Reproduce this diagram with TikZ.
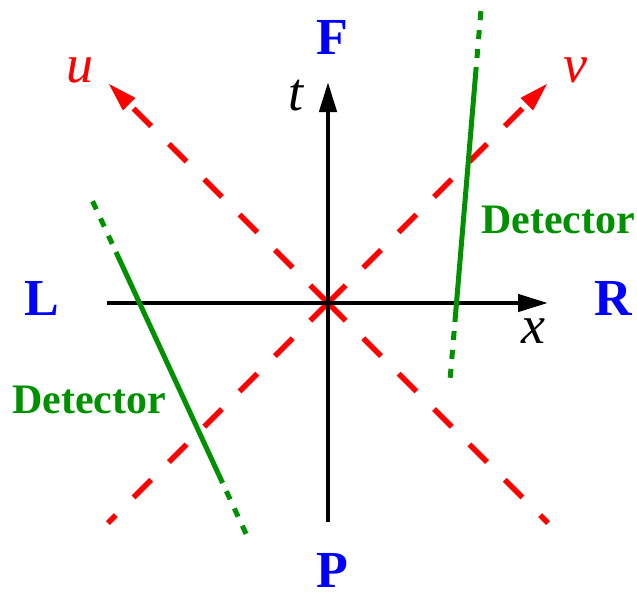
\documentclass[tikz,border=0pt]{standalone}
\usepackage{fontspec}
\setmainfont{Liberation Serif}
\usetikzlibrary{arrows.meta}
\definecolor{dgreen}{RGB}{0,145,0}
\begin{document}
\begin{tikzpicture}[x=1pt,y=-1pt,
  axis/.style={line width=4.5pt,-{Triangle[length=30pt,width=17pt]}},
  cone/.style={red,line width=5.5pt,dash pattern=on 25pt off 25pt},
  conearrow/.style={cone,-{Triangle[length=30pt,width=16pt]}},
  det/.style={dgreen,line width=5pt},
  detdot/.style={dgreen,line width=5pt,dash pattern=on 9pt off 10pt,dash phase=10pt},
  region/.style={font=\fontsize{52}{52}\selectfont\bfseries,text=blue,anchor=base,inner sep=0pt},
  axlabel/.style={font=\fontsize{54}{54}\selectfont\itshape,anchor=base,inner sep=0pt},
  detlabel/.style={font=\fontsize{42}{42}\selectfont\bfseries,text=dgreen,anchor=base,inner sep=0pt}]
\useasboundingbox (0,0) rectangle (637,592);
% coordinates
\coordinate (O) at (328,303);
\coordinate (xl) at (107,303);
\coordinate (xr) at (548,303);
\coordinate (tb) at (328,522);
\coordinate (tt) at (328,82);
\coordinate (utip) at (108,83);
\coordinate (ubot) at (548,523);
\coordinate (vtip) at (548,83);
\coordinate (vbot) at (108,523);
% right detector
\coordinate (r1) at (481,10);
\coordinate (r2) at (476.2,67);
\coordinate (r3) at (454.9,322);
\coordinate (r4) at (450,380);
% left detector
\coordinate (l1) at (92,200);
\coordinate (l2) at (116,252);
\coordinate (l3) at (222.6,483);
\coordinate (l4) at (248,538);
% light cone
\draw[cone] (O) -- (ubot);
\draw[cone] (O) -- (vbot);
\draw[conearrow] (O) -- (utip);
\draw[conearrow] (O) -- (vtip);
% axes
\draw[axis] (xl) -- (xr);
\draw[axis] (tb) -- (tt);
% detectors
\draw[det] (r2) -- (r3);
\draw[detdot] (r2) -- (r1);
\draw[detdot] (r3) -- (r4);
\draw[det] (l2) -- (l3);
\draw[detdot] (l2) -- (l1);
\draw[detdot] (l3) -- (l4);
% labels
\node[region] (F) at (332,54) {F};
\node[region] (P) at (332,587) {P};
\node[region] (L) at (42,315) {L};
\node[region] (R) at (613,315) {R};
\node[axlabel] (tl) at (296,110) {t};
\node[axlabel] (xlab) at (533,343) {x};
\node[axlabel,text=red] (ul) at (80,82) {u};
\node[axlabel,text=red] (vl) at (575,82) {v};
\node[detlabel] (dr) at (558,233) {Detector};
\node[detlabel] (dl) at (89,413) {Detector};
\end{tikzpicture}
\end{document}
